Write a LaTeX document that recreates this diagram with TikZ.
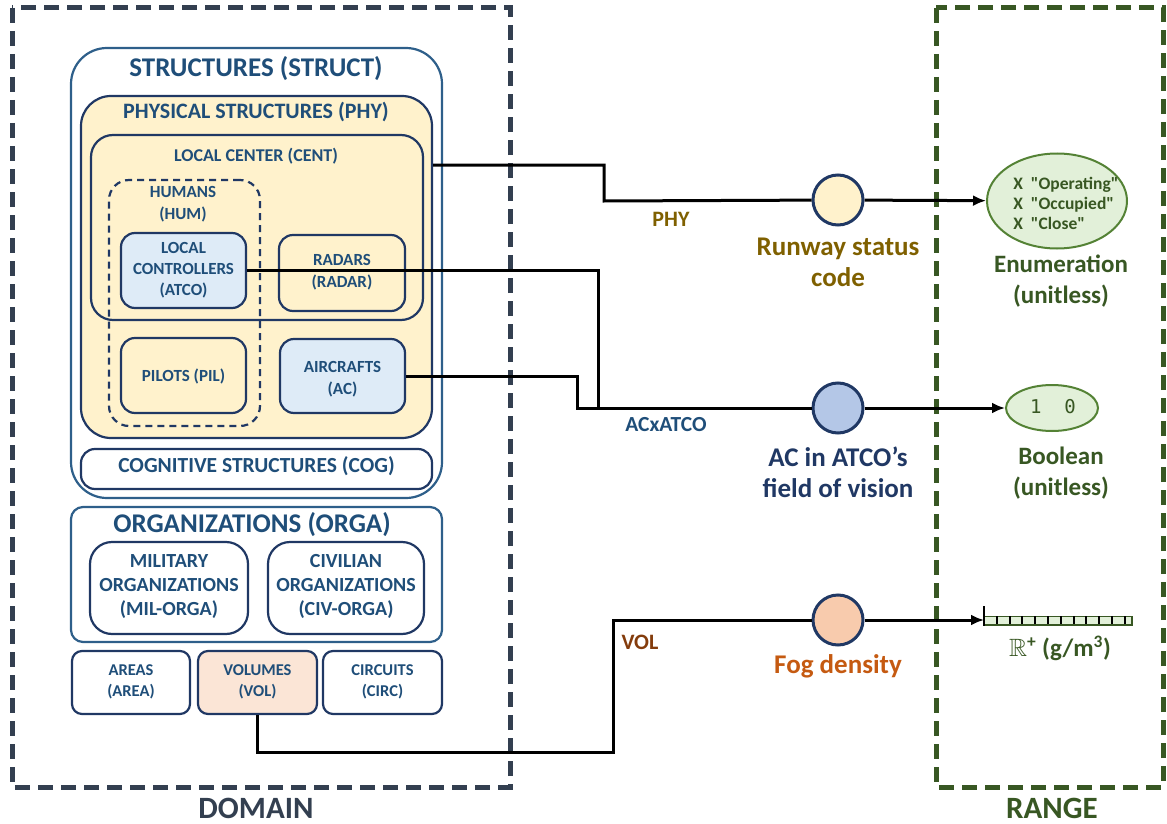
\documentclass[tikz,border=0pt]{standalone}
\usepackage{fontspec}
\usepackage{amssymb}
\setmainfont{Carlito}
\newfontfamily\monofont{DejaVu Sans Mono}
\usetikzlibrary{arrows.meta, shapes.geometric}

\definecolor{navy}{HTML}{203864}
\definecolor{steel}{HTML}{2E5F8A}
\definecolor{title}{HTML}{1F4E79}
\definecolor{slate}{HTML}{333F50}
\definecolor{leaf}{HTML}{385723}
\definecolor{leafline}{HTML}{548235}
\definecolor{leaffill}{HTML}{E2F0D9}
\definecolor{sand}{HTML}{FFF2CC}
\definecolor{sky}{HTML}{DEEBF7}
\definecolor{skydark}{HTML}{B4C7E7}
\definecolor{peach}{HTML}{FBE5D6}
\definecolor{peachdark}{HTML}{F8CBAD}
\definecolor{gold}{HTML}{7F6000}
\definecolor{rust}{HTML}{843C0C}
\definecolor{orange}{HTML}{C55A11}

\tikzset{
  box/.style={draw=navy, line width=2.2pt, rounded corners=#1, inner sep=0pt},
  box/.default=14pt,
  txt/.style={text=title, font=\bfseries, align=center, inner sep=0pt},
  wire/.style={draw=black, line width=3pt},
  dot/.style={circle, draw=navy, line width=3pt, minimum size=50pt, inner sep=0pt},
  rng/.style={ellipse, draw=leafline, line width=2pt, fill=leaffill, inner sep=0pt}
}

\begin{document}
\begin{tikzpicture}[x=1pt, y=-1pt]
  \useasboundingbox (0,0) rectangle (1167,824);

  % domain / range frames
  \draw[slate, line width=5pt, dash pattern=on 15pt off 8pt] (12,8) rectangle (510,787);
  \draw[leaf, line width=5pt, dash pattern=on 15pt off 8pt] (936,8) rectangle (1163,787);
  \node[text=slate, font=\bfseries\fontsize{31}{34}\selectfont] (dom) at (256,808) {DOMAIN};
  \node[text=leaf, font=\bfseries\fontsize{31}{34}\selectfont] (ran) at (1052,808) {RANGE};

  % structures
  \node[box=36pt, draw=steel, fill=white, minimum width=371pt, minimum height=450pt] (struct) at (256.5,273) {};
  \node[txt, font=\bfseries\fontsize{27}{30}\selectfont] at (256,69) {STRUCTURES (STRUCT)};
  \node[box=30pt, fill=sand, minimum width=351pt, minimum height=342pt] (phy) at (256.5,267) {};
  \node[txt, font=\bfseries\fontsize{22}{24}\selectfont] at (256,112) {PHYSICAL STRUCTURES (PHY)};
  \node[box=22pt, fill=sand, minimum width=332pt, minimum height=185pt] (cent) at (257,227.5) {};
  \node[txt, font=\bfseries\fontsize{18}{20}\selectfont] at (256,156) {LOCAL CENTER (CENT)};
  \node[box=20pt, dashed, dash pattern=on 7pt off 5pt, minimum width=151pt, minimum height=246pt] (hum) at (184.5,303) {};
  \node[txt, font=\bfseries\fontsize{17}{22}\selectfont] at (183,204) {HUMANS\\(HUM)};

  \node[box, fill=sky, minimum width=125pt, minimum height=75pt] (atco) at (183.5,270.5) {};
  \node[txt, font=\bfseries\fontsize{17}{21}\selectfont] at (183.5,270.5) {LOCAL\\CONTROLLERS\\(ATCO)};
  \node[box, fill=sand, minimum width=126pt, minimum height=76pt] (radar) at (342,273) {};
  \node[txt, font=\bfseries\fontsize{17}{22}\selectfont] at (342,272) {RADARS\\(RADAR)};
  \node[box, fill=sand, minimum width=125pt, minimum height=75pt] (pil) at (183.5,375.5) {};
  \node[txt, font=\bfseries\fontsize{17}{22}\selectfont] at (183.5,376) {PILOTS (PIL)};
  \node[box, fill=sky, minimum width=125pt, minimum height=74pt] (ac) at (342.5,376) {};
  \node[txt, font=\bfseries\fontsize{17}{22}\selectfont] at (342.5,379) {AIRCRAFTS\\(AC)};

  \node[box, fill=white, minimum width=351pt, minimum height=40pt] (cog) at (256.5,469) {};
  \node[txt, font=\bfseries\fontsize{21.5}{24}\selectfont] at (256.5,466) {COGNITIVE STRUCTURES (COG)};

  % organizations
  \node[box=12pt, draw=steel, fill=white, minimum width=371pt, minimum height=135pt] (orga) at (256.5,574.5) {};
  \node[txt, font=\bfseries\fontsize{27}{30}\selectfont] at (252,525) {ORGANIZATIONS (ORGA)};
  \node[box=22pt, fill=white, minimum width=158pt, minimum height=92pt] (mil) at (169,588) {};
  \node[txt, font=\bfseries\fontsize{20}{24}\selectfont] at (169,587) {MILITARY\\ORGANIZATIONS\\(MIL-ORGA)};
  \node[box=22pt, fill=white, minimum width=156pt, minimum height=92pt] (civ) at (346,588) {};
  \node[txt, font=\bfseries\fontsize{20}{24}\selectfont] at (346,586) {CIVILIAN\\ORGANIZATIONS\\(CIV-ORGA)};

  % spaces
  \node[box=10pt, fill=white, minimum width=118pt, minimum height=63pt] (area) at (131,682.5) {};
  \node[txt, font=\bfseries\fontsize{16.5}{21}\selectfont] at (131,681.5) {AREAS\\(AREA)};
  \node[box=10pt, fill=peach, minimum width=119pt, minimum height=63pt] (vol) at (257.5,682.5) {};
  \node[txt, font=\bfseries\fontsize{16.5}{21}\selectfont] at (257.5,681.5) {VOLUMES\\(VOL)};
  \node[box=10pt, fill=white, minimum width=119pt, minimum height=63pt] (circ) at (382.5,682.5) {};
  \node[txt, font=\bfseries\fontsize{16.5}{21}\selectfont] at (382.5,681.5) {CIRCUITS\\(CIRC)};

  % attributes
  \node[dot, fill=sand] (rsc) at (838,200) {};
  \node[dot, fill=skydark] (vis) at (838,408) {};
  \node[dot, fill=peachdark] (fog) at (838,620) {};
  \node[txt, text=gold, font=\bfseries\fontsize{27}{31}\selectfont] at (838,262) {Runway status\\code};
  \node[txt, text=navy, font=\bfseries\fontsize{27}{31}\selectfont] at (838,472) {AC in ATCO’s\\field of vision};
  \node[txt, text=orange, font=\bfseries\fontsize{27}{31}\selectfont] at (838,666) {Fog density};
  \node[txt, text=gold, font=\bfseries\fontsize{22}{24}\selectfont] at (671,219) {PHY};
  \node[txt, text=title, font=\bfseries\fontsize{21.5}{24}\selectfont] at (666,425) {ACxATCO};
  \node[txt, text=rust, font=\bfseries\fontsize{22}{24}\selectfont] at (640,642) {VOL};

  % ranges
  \node[rng, minimum width=140pt, minimum height=95pt] (enum) at (1057,201) {};
  \node[txt, text=leaf, font=\bfseries\fontsize{17.5}{20}\selectfont, align=left] at (1066,203) {X\ \ \textquotedbl Operating\textquotedbl\\X\ \ \textquotedbl Occupied\textquotedbl\\X\ \ \textquotedbl Close\textquotedbl};
  \node[txt, text=leaf, font=\bfseries\fontsize{25}{31}\selectfont] at (1061,281) {Enumeration\\(unitless)};
  \node[rng, minimum width=92pt, minimum height=46pt] (bool) at (1052,408) {};
  \node[txt, text=leaf, font=\monofont\fontsize{19}{20}\selectfont] at (1053,407) {1\ \ 0};
  \node[txt, text=leaf, font=\bfseries\fontsize{25}{31}\selectfont] at (1061,473) {Boolean\\(unitless)};
  \coordinate (rplus) at (984,620);
  \draw[leaf, line width=1.5pt, fill=leaffill] (984,616.5) rectangle (1132,625);
  \foreach \i in {1,...,11}
    \draw[black, line width=2pt] (984+\i*12.8,616) -- ++(0,7.5);
  \draw[black, line width=2.6pt] (rplus |- 0,606) -- (rplus |- 0,625.5);
  \node[txt, text=leaf, font=\bfseries\fontsize{25}{28}\selectfont] at (1060,648) {$\mathbb{R}$\textsuperscript{+} (g/m\textsuperscript{3})};

  % connectors
  \coordinate (kphy) at (604,201);
  \coordinate (kac) at (577,408);
  \coordinate (katco) at (598,408);
  \coordinate (kvol) at (613,752);
  \draw[wire] (phy.east |- 0,165) -| (kphy) -- (rsc);
  \draw[wire, -{Latex[length=13pt,width=11pt]}] (rsc) -- (enum);
  \draw[wire] (atco.east) -| (katco);
  \draw[wire] (ac.east) -| (kac) -- (vis);
  \draw[wire, -{Latex[length=13pt,width=11pt]}] (vis) -- (bool);
  \draw[wire] (vol.south) |- (kvol) |- (fog);
  \draw[wire, -{Latex[length=13pt,width=11pt]}] (fog) -- (rplus);
\end{tikzpicture}
\end{document}
